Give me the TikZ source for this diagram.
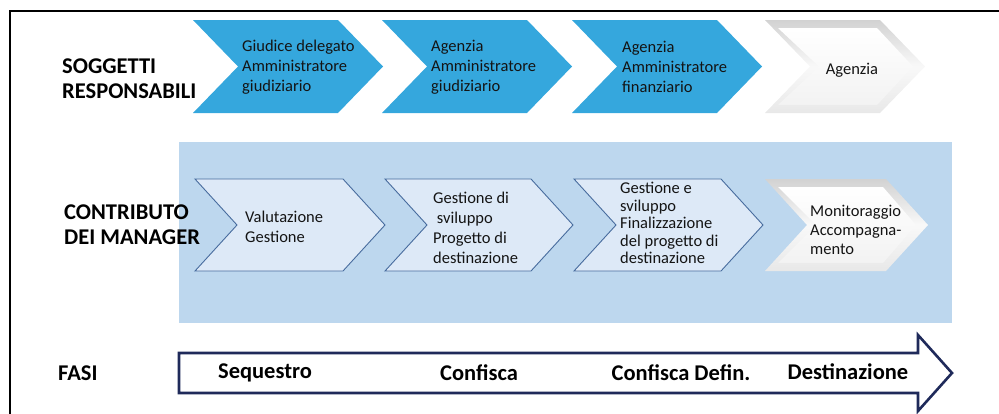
\documentclass[tikz,border=0pt]{standalone}
\usepackage{fontspec}
\setmainfont{Carlito}
\definecolor{chevblue}{RGB}{53,167,221}
\definecolor{panelblue}{RGB}{189,215,238}
\definecolor{lightchev}{RGB}{221,233,247}
\definecolor{lightedge}{RGB}{72,108,158}
\definecolor{navy}{RGB}{31,42,90}
\definecolor{txt}{RGB}{20,20,20}
\newcommand{\chv}[6]{(#1,#3) -- (#2-#5,#3) -- (#2,#6) -- (#2-#5,#4) -- (#1,#4) -- (#1+#5,#6) -- cycle}
\newcommand{\chvin}[6]{(#1+13,#3+8) -- (#2-#5-3,#3+8) -- (#2-12,#6) -- (#2-#5-3,#4-8) -- (#1+13,#4-8) -- (#1+#5+9,#6) -- cycle}
\tikzset{
  rowlabel/.style={font=\fontsize{22.5}{25}\selectfont\bfseries, text=black, align=left, anchor=west, inner sep=0pt},
  chevtext/.style={font=\fontsize{16.5}{20}\selectfont, text=txt, align=left, anchor=west, inner sep=0pt},
  phasetext/.style={font=\fontsize{22.5}{25}\selectfont\bfseries, text=black, anchor=center, inner sep=0pt},
  bluechev/.style={fill=chevblue},
  lightchevstyle/.style={fill=lightchev, draw=lightedge, line width=0.9pt},
  greyouter/.style={top color=gray!35, bottom color=gray!18, middle color=gray!5},
  greyinner/.style={top color=white, bottom color=gray!10},
}
\begin{document}
\begin{tikzpicture}[x=1pt,y=-1pt]
\useasboundingbox (0,0) rectangle (999,413);
% frame
\draw[line width=2pt] (10,414) -- (10,11) -- (1000,11);
% row 1 chevrons
\fill[bluechev] \chv{193}{383}{20}{113}{45}{66.5};
\fill[bluechev] \chv{382}{572}{20}{113}{45}{66.5};
\fill[bluechev] \chv{572}{762}{20}{113}{45}{66.5};
\shade[greyouter] \chv{765}{925}{20}{113}{45}{66.5};
\shade[greyinner] \chvin{765}{925}{20}{113}{45}{66.5};
% panel
\fill[panelblue] (179,142) rectangle (952,323);
% row 2 chevrons
\filldraw[lightchevstyle] \chv{195}{385}{179}{271}{42}{225};
\filldraw[lightchevstyle] \chv{385}{573}{179}{271}{42}{225};
\filldraw[lightchevstyle] \chv{574}{763}{179}{271}{42}{225};
\shade[greyouter] \chv{765}{928}{179}{271}{42}{225};
\shade[greyinner] \chvin{765}{928}{179}{271}{42}{225};
% phase arrow
\filldraw[fill=white, draw=navy, line width=2.6pt, line join=miter]
  (179,353) -- (918,353) -- (918,335) -- (952,373) -- (918,411) -- (918,393) -- (179,393) -- cycle;
% labels
\node[rowlabel] (lab1) at (62,78.5) {SOGGETTI\\RESPONSABILI};
\node[rowlabel] (lab2) at (64,225) {CONTRIBUTO\\DEI MANAGER};
\node[rowlabel] (lab3) at (58,373) {FASI};
% row 1 texts
\node[chevtext] (r1a) at (242,67) {Giudice delegato\\Amministratore\\giudiziario};
\node[chevtext] (r1b) at (431,67) {Agenzia\\Amministratore\\giudiziario};
\node[chevtext] (r1c) at (622,67) {Agenzia\\Amministratore\\finanziario};
\node[chevtext, anchor=center] (r1d) at (852,70) {Agenzia};
% row 2 texts
\node[chevtext] (r2a) at (245,227) {Valutazione\\Gestione};
\node[chevtext] (r2b) at (433,228) {Gestione di\\\ sviluppo\\Progetto di\\destinazione};
\node[chevtext, font=\fontsize{16.5}{17.5}\selectfont] (r2c) at (620,223) {Gestione e\\sviluppo\\Finalizzazione\\del progetto di\\destinazione};
\node[chevtext, font=\fontsize{16.5}{19}\selectfont] (r2d) at (810,230) {Monitoraggio\\Accompagna-\\mento};
% phases
\node[phasetext] (p1) at (265,373) {Sequestro};
\node[phasetext] (p2) at (479,373) {Confisca};
\node[phasetext] (p3) at (681,373) {Confisca Defin.};
\node[phasetext] (p4) at (848,372) {Destinazione};
\end{tikzpicture}
\end{document}
